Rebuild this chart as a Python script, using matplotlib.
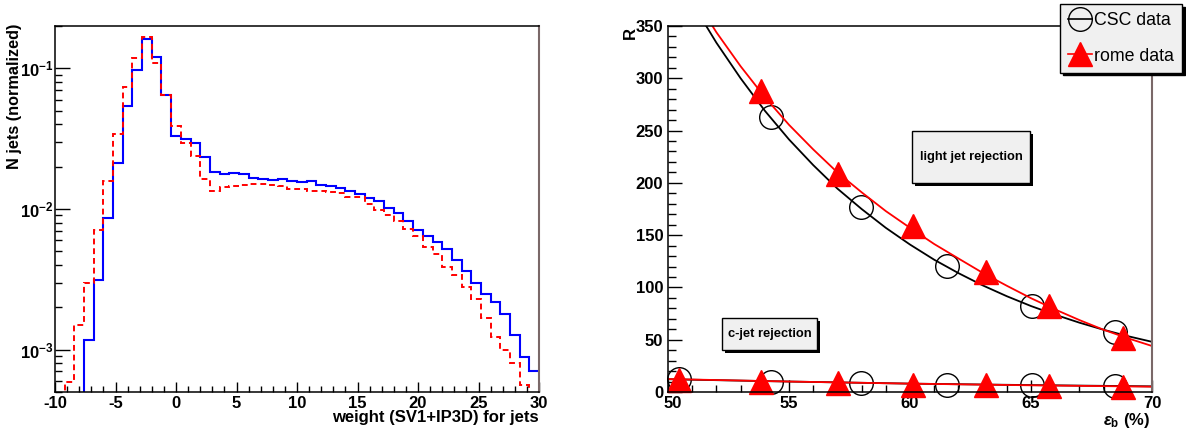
import numpy as np
import matplotlib
matplotlib.use("Agg")
import matplotlib.pyplot as plt
from matplotlib.lines import Line2D
from matplotlib.patches import Rectangle
from matplotlib.ticker import MultipleLocator, LogLocator, NullFormatter

plt.rcParams["font.family"] = ["Liberation Sans", "DejaVu Sans"]
plt.rcParams["font.weight"] = "bold"
plt.rcParams["axes.unicode_minus"] = False
plt.rcParams["mathtext.fontset"] = "custom"
plt.rcParams["mathtext.rm"] = "Liberation Sans:bold"
plt.rcParams["mathtext.bf"] = "Liberation Sans:bold"
plt.rcParams["mathtext.it"] = "Liberation Sans:bold:italic"

# ---- left panel: b-tag weight distributions (50 bins from -10 to 30)
bin_edges = np.linspace(-10, 30, 51)
csc_weight = [0, 0, 0, 1.17e-3, 3.15e-3, 8.63e-3, 0.0213, 0.054, 0.0973, 0.162,
              0.121, 0.0649, 0.033, 0.0317, 0.0295, 0.0235, 0.0182, 0.0176, 0.0179, 0.0176,
              0.0165, 0.0164, 0.0162, 0.0163, 0.0157, 0.0155, 0.0158, 0.0148, 0.0146, 0.0142,
              0.0134, 0.0127, 0.0119, 0.01136, 0.0102, 0.00938, 0.00818, 0.00714, 0.0064, 0.00583,
              0.0052, 0.00434, 0.00361, 0.00298, 0.0025, 0.00218, 0.00179, 0.00128, 8.9e-4, 7.0e-4]
rome_weight = [0, 5.85e-4, 1.5e-3, 2.97e-3, 7.13e-3, 0.0159, 0.0344, 0.074, 0.119, 0.166,
               0.1097, 0.0646, 0.039, 0.0295, 0.0237, 0.0164, 0.0134, 0.0143, 0.0145, 0.0147,
               0.0150, 0.0150, 0.0149, 0.0145, 0.0139, 0.0139, 0.0135, 0.0135, 0.0132, 0.0130,
               0.0121, 0.0121, 0.01086, 0.0098, 0.009, 0.0082, 0.0072, 0.00647, 0.0054, 0.00477,
               0.00387, 0.0034, 0.00279, 0.00231, 0.00168, 0.00123, 0.001, 8.0e-4, 5.6e-4, 0]

# ---- right panel: rejection vs b efficiency
csc_eff = [50.45, 54.26, 57.98, 61.52, 65.03, 68.47]
csc_light = [np.nan, 263.3, 176.6, 120.5, 82.2, 57.0]
csc_c = [12.4, 9.9, 8.3, 6.7, 6.7, 6.1]
rome_eff = [50.45, 53.84, 57.04, 60.14, 63.12, 65.76, 68.82]
rome_light = [np.nan, 288.0, 208.5, 159.0, 115.0, 82.6, 51.3]
rome_c = [11.5, 9.6, 8.3, 6.7, 6.4, 5.7, 5.1]

# fitted curves
fit_eff = [51, 52, 53, 54, 55, 56, 57, 58, 59, 60, 61, 62, 63, 64, 65, 66, 67, 68, 69, 70]
csc_light_fit = [372, 334, 300, 269, 241.5, 217, 194.5, 175, 157, 141, 126.5, 113.7, 102,
                 91.6, 82.2, 73.9, 66.3, 59.5, 53.4, 48]
rome_light_fit = [381, 344, 311.5, 282, 255.5, 232, 210, 191, 173, 157, 141.5, 127.7, 114,
                  101.6, 89.7, 78.9, 68.8, 59.5, 51.4, 44]
fit_eff_c = [50, 55, 60, 65, 70]
csc_c_fit = [12.2, 10.0, 8.0, 6.6, 5.4]
rome_c_fit = [12.4, 10.0, 8.0, 6.4, 5.1]

eff_ticks = [50, 55, 60, 65, 70]

W, H = 1186, 438


def fx(px):
    return px / W


def fy(py):
    return 1 - py / H


def note_box(fig, x0, y0, x1, y1, text):
    fig.add_artist(Rectangle((fx(x0 + 3), fy(y1 + 3)), (x1 - x0) / W, (y1 - y0) / H,
                             transform=fig.transFigure, facecolor="black", edgecolor="none", zorder=6))
    fig.add_artist(Rectangle((fx(x0), fy(y1)), (x1 - x0) / W, (y1 - y0) / H,
                             transform=fig.transFigure, facecolor="#f0f0f0", edgecolor="black",
                             lw=1.0, zorder=7))
    fig.text(fx((x0 + x1) / 2), fy((y0 + y1) / 2), text, ha="center", va="center",
             fontsize=9.3, fontweight="bold", zorder=8)


fig = plt.figure(figsize=(W / 100, H / 100), dpi=100)

# left
ax1 = fig.add_axes([fx(55), fy(392), (539 - 55) / W, (392 - 26) / H])
ax1.set_yscale("log", nonpositive="clip")
ax1.stairs(csc_weight, bin_edges, baseline=None, color="#0000ff", lw=1.5)
ax1.stairs(rome_weight, bin_edges, baseline=None, color="#ff0000", lw=1.4,
           linestyle=(0, (3, 2)))
ax1.set_xlim(-10, 30)
ax1.set_ylim(5e-4, 0.2)
ax1.xaxis.set_major_locator(MultipleLocator(5))
ax1.xaxis.set_minor_locator(MultipleLocator(1))
ax1.set_yticks([1e-3, 1e-2, 1e-1], labels=[r"$\mathbf{10^{-3}}$", r"$\mathbf{10^{-2}}$",
                                           r"$\mathbf{10^{-1}}$"])
ax1.yaxis.set_minor_locator(LogLocator(base=10, subs=np.arange(2, 10)))
ax1.yaxis.set_minor_formatter(NullFormatter())
ax1.tick_params(which="both", direction="in", top=False, right=False, labelsize=12, width=1)
ax1.tick_params(axis="x", which="major", length=7, pad=3)
ax1.tick_params(axis="x", which="minor", length=4)
ax1.tick_params(axis="y", which="major", length=11, pad=1)
ax1.tick_params(axis="y", which="minor", length=5)
for side in ["left", "bottom", "top"]:
    ax1.spines[side].set_linewidth(1.1)
ax1.spines["right"].set_color("#7a6868")
ax1.spines["right"].set_linewidth(1.5)
fig.text(fx(15), fy(24), "N jets (normalized)", rotation=90, ha="center", va="top",
         fontsize=11.7, fontweight="bold")
fig.text(fx(539), fy(422), "weight (SV1+IP3D) for jets", ha="right", va="baseline",
         fontsize=12, fontweight="bold")

# right
ax2 = fig.add_axes([fx(668), fy(392), (1152 - 668) / W, (392 - 26) / H])
ax2.plot(fit_eff, csc_light_fit, color="black", lw=1.3)
ax2.plot(fit_eff_c, csc_c_fit, color="black", lw=1.3)
ax2.plot(csc_eff, csc_light, "o", mfc="none", mec="black", ms=17, mew=1.0, clip_on=False)
ax2.plot(csc_eff, csc_c, "o", mfc="none", mec="black", ms=17, mew=1.0, clip_on=False)
ax2.plot(fit_eff, rome_light_fit, color="#ff0000", lw=1.3)
ax2.plot(fit_eff_c, rome_c_fit, color="#ff0000", lw=1.3)
ax2.plot(rome_eff, rome_light, "^", color="#ff0000", ms=17, clip_on=False)
ax2.plot(rome_eff, rome_c, "^", color="#ff0000", ms=17, clip_on=False)
ax2.set_xlim(50, 70)
ax2.set_ylim(0, 350)
# first label is drawn by hand a little right of its tick (as in the original)
ax2.set_xticks(eff_ticks, labels=[""] + [str(t) for t in eff_ticks[1:]])
ax2.annotate(str(eff_ticks[0]), xy=(eff_ticks[0], 0), xycoords=("data", "axes fraction"),
             xytext=(3.6, -3), textcoords="offset points", ha="center", va="top",
             fontsize=12, fontweight="bold", annotation_clip=False)
ax2.xaxis.set_minor_locator(MultipleLocator(1))
ax2.yaxis.set_major_locator(MultipleLocator(50))
ax2.yaxis.set_minor_locator(MultipleLocator(10))
ax2.tick_params(which="both", direction="in", top=False, right=False, labelsize=12, width=1)
ax2.tick_params(axis="x", which="major", length=9, pad=3)
ax2.tick_params(axis="x", which="minor", length=5)
ax2.tick_params(axis="y", which="major", length=10, pad=3.5)
ax2.tick_params(axis="y", which="minor", length=5.5)
for side in ["left", "bottom", "top"]:
    ax2.spines[side].set_linewidth(1.1)
ax2.spines["right"].set_color("#7a6868")
ax2.spines["right"].set_linewidth(1.5)
fig.text(fx(630), fy(33), "R", rotation=90, ha="center", va="center", fontsize=12,
         fontweight="bold")
fig.text(fx(1150), fy(425), r"$\epsilon_{\mathrm{b}}$ (%)", ha="right", va="baseline",
         fontsize=12, fontweight="bold")

handles = [Line2D([], [], color="black", marker="o", mfc="none", ms=17, mew=1.0, lw=1.2),
           Line2D([], [], color="#ff0000", marker="^", ms=17, lw=1.2)]
leg = ax2.legend(handles, ["CSC data", "rome data"], loc="upper right",
                 bbox_to_anchor=(fx(1182), fy(4)), bbox_transform=fig.transFigure,
                 borderaxespad=0, prop={"size": 12.8, "weight": "normal"}, frameon=True,
                 fancybox=False, edgecolor="black", facecolor="#f0f0f0", framealpha=1,
                 shadow={"color": "black", "alpha": 1}, handlelength=1.35,
                 handletextpad=0.1, borderpad=0.45, labelspacing=1.05)
leg.get_frame().set_linewidth(1.0)
leg.set_zorder(10)

note_box(fig, 912, 131, 1030, 183, "light jet rejection")
note_box(fig, 722, 318, 817, 350, "c-jet rejection")

fig.savefig("out.png", dpi=100)
